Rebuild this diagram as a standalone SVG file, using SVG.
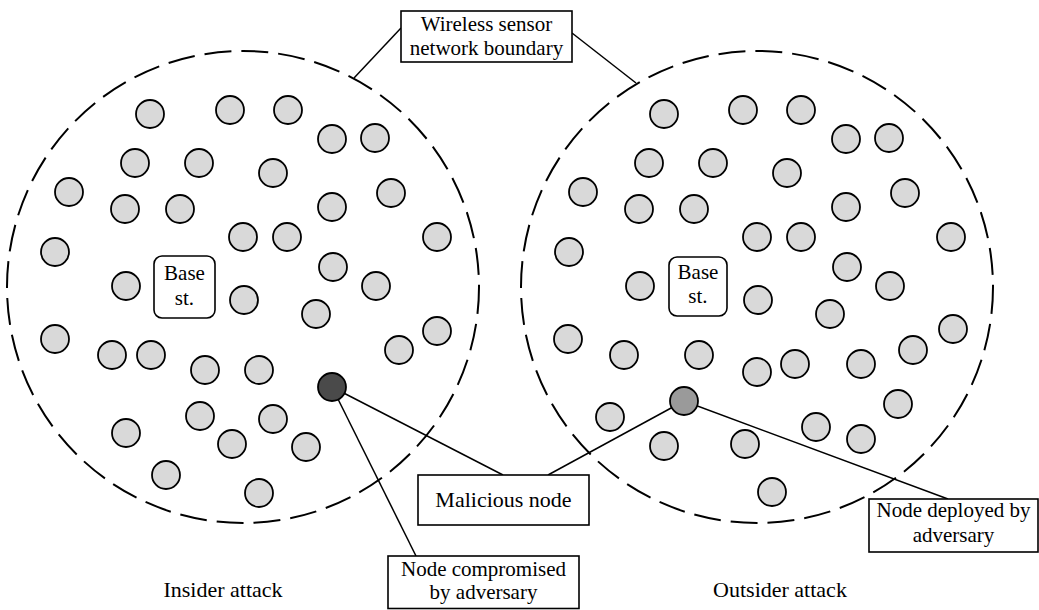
<svg xmlns="http://www.w3.org/2000/svg" width="1039" height="610" viewBox="0 0 1039 610" font-family="Liberation Serif, serif">
<style>
.bd{fill:none;stroke:#000;stroke-width:2;stroke-dasharray:27 10}
.n{fill:#d9d9d9;stroke:#000;stroke-width:1.8}
.dk{fill:#4a4a4a;stroke:#000;stroke-width:1.8}
.gr{fill:#9a9a9a;stroke:#000;stroke-width:1.8}
.ln{stroke:#000;stroke-width:1.5;fill:none}
.box{fill:#fff;stroke:#000;stroke-width:1.6}
.bs{fill:#fff;stroke:#000;stroke-width:1.6}
.t{font-family:'Liberation Serif',serif;font-size:21px;fill:#000;text-anchor:middle}
.c{font-size:22px}
</style>
<rect width="1039" height="610" fill="#fff"/>
<g id="boundaries">
<circle class="bd" cx="243" cy="287" r="236"/>
<circle class="bd" cx="757" cy="287" r="236"/>
</g>
<g id="connectors">
<line class="ln" x1="401" y1="28" x2="354" y2="78"/>
<line class="ln" x1="572" y1="33" x2="636" y2="83"/>
<line class="ln" x1="332" y1="387" x2="503" y2="475"/>
<line class="ln" x1="332" y1="387" x2="416" y2="556"/>
<line class="ln" x1="684" y1="401" x2="548" y2="475"/>
<line class="ln" x1="684" y1="401" x2="948" y2="499"/>
</g>
<g id="insider-nodes">
<g id="l1"><circle class="n" cx="150" cy="114" r="14"/></g>
<g id="l2"><circle class="n" cx="230" cy="110" r="14"/></g>
<g id="l3"><circle class="n" cx="288" cy="110" r="14"/></g>
<g id="l4"><circle class="n" cx="332" cy="139" r="14"/></g>
<g id="l5"><circle class="n" cx="375" cy="138" r="14"/></g>
<g id="l6"><circle class="n" cx="135" cy="163" r="14"/></g>
<g id="l7"><circle class="n" cx="199" cy="163" r="14"/></g>
<g id="l8"><circle class="n" cx="273" cy="173" r="14"/></g>
<g id="l9"><circle class="n" cx="69" cy="192" r="14"/></g>
<g id="l10"><circle class="n" cx="125" cy="209" r="14"/></g>
<g id="l11"><circle class="n" cx="180" cy="209" r="14"/></g>
<g id="l12"><circle class="n" cx="332" cy="207" r="14"/></g>
<g id="l13"><circle class="n" cx="391" cy="193" r="14"/></g>
<g id="l14"><circle class="n" cx="243" cy="237" r="14"/></g>
<g id="l15"><circle class="n" cx="287" cy="237" r="14"/></g>
<g id="l16"><circle class="n" cx="437" cy="237" r="14"/></g>
<g id="l17"><circle class="n" cx="55" cy="252" r="14"/></g>
<g id="l18"><circle class="n" cx="333" cy="267" r="14"/></g>
<g id="l19"><circle class="n" cx="126" cy="286" r="14"/></g>
<g id="l20"><circle class="n" cx="376" cy="286" r="14"/></g>
<g id="l21"><circle class="n" cx="244" cy="300" r="14"/></g>
<g id="l22"><circle class="n" cx="316" cy="314" r="14"/></g>
<g id="l23"><circle class="n" cx="55" cy="339" r="14"/></g>
<g id="l24"><circle class="n" cx="112" cy="355" r="14"/></g>
<g id="l25"><circle class="n" cx="151" cy="355" r="14"/></g>
<g id="l26"><circle class="n" cx="205" cy="370" r="14"/></g>
<g id="l27"><circle class="n" cx="259" cy="370" r="14"/></g>
<g id="l28"><circle class="n" cx="399" cy="350" r="14"/></g>
<g id="l29"><circle class="n" cx="437" cy="331" r="14"/></g>
<g id="l30"><circle class="n" cx="200" cy="416" r="14"/></g>
<g id="l31"><circle class="n" cx="273" cy="419" r="14"/></g>
<g id="l32"><circle class="n" cx="126" cy="433" r="14"/></g>
<g id="l33"><circle class="n" cx="232" cy="444" r="14"/></g>
<g id="l34"><circle class="n" cx="306" cy="447" r="14"/></g>
<g id="l35"><circle class="n" cx="166" cy="475" r="14"/></g>
<g id="l36"><circle class="n" cx="259" cy="493" r="14"/></g>
<g id="compromised-node"><circle class="dk" cx="332" cy="387" r="14"/></g>
<g id="base-left"><rect class="bs" x="154" y="256" width="61" height="62" rx="8"/><text class="t" x="184.5" y="280">Base</text><text class="t" x="184.5" y="305">st.</text></g>
</g>
<g id="outsider-nodes">
<g id="r1"><circle class="n" cx="664" cy="114" r="14"/></g>
<g id="r2"><circle class="n" cx="743" cy="110" r="14"/></g>
<g id="r3"><circle class="n" cx="801" cy="110" r="14"/></g>
<g id="r4"><circle class="n" cx="846" cy="139" r="14"/></g>
<g id="r5"><circle class="n" cx="889" cy="138" r="14"/></g>
<g id="r6"><circle class="n" cx="649" cy="163" r="14"/></g>
<g id="r7"><circle class="n" cx="713" cy="163" r="14"/></g>
<g id="r8"><circle class="n" cx="787" cy="173" r="14"/></g>
<g id="r9"><circle class="n" cx="583" cy="192" r="14"/></g>
<g id="r10"><circle class="n" cx="639" cy="209" r="14"/></g>
<g id="r11"><circle class="n" cx="694" cy="209" r="14"/></g>
<g id="r12"><circle class="n" cx="846" cy="207" r="14"/></g>
<g id="r13"><circle class="n" cx="905" cy="193" r="14"/></g>
<g id="r14"><circle class="n" cx="757" cy="237" r="14"/></g>
<g id="r15"><circle class="n" cx="801" cy="237" r="14"/></g>
<g id="r16"><circle class="n" cx="951" cy="237" r="14"/></g>
<g id="r17"><circle class="n" cx="569" cy="252" r="14"/></g>
<g id="r18"><circle class="n" cx="847" cy="267" r="14"/></g>
<g id="r19"><circle class="n" cx="640" cy="286" r="14"/></g>
<g id="r20"><circle class="n" cx="890" cy="286" r="14"/></g>
<g id="r21"><circle class="n" cx="758" cy="300" r="14"/></g>
<g id="r22"><circle class="n" cx="830" cy="314" r="14"/></g>
<g id="r23"><circle class="n" cx="568" cy="339" r="14"/></g>
<g id="r24"><circle class="n" cx="624" cy="355" r="14"/></g>
<g id="r25"><circle class="n" cx="699" cy="355" r="14"/></g>
<g id="r26"><circle class="n" cx="757" cy="372" r="14"/></g>
<g id="r27"><circle class="n" cx="795" cy="364" r="14"/></g>
<g id="r28"><circle class="n" cx="861" cy="364" r="14"/></g>
<g id="r29"><circle class="n" cx="913" cy="350" r="14"/></g>
<g id="r30"><circle class="n" cx="953" cy="329" r="14"/></g>
<g id="r31"><circle class="n" cx="610" cy="417" r="14"/></g>
<g id="r32"><circle class="n" cx="898" cy="404" r="14"/></g>
<g id="r33"><circle class="n" cx="816" cy="427" r="14"/></g>
<g id="r34"><circle class="n" cx="861" cy="439" r="14"/></g>
<g id="r35"><circle class="n" cx="664" cy="446" r="14"/></g>
<g id="r36"><circle class="n" cx="745" cy="444" r="14"/></g>
<g id="r37"><circle class="n" cx="772" cy="492" r="14"/></g>
<g id="deployed-node"><circle class="gr" cx="684" cy="401" r="14"/></g>
<g id="base-right"><rect class="bs" x="669" y="257" width="58" height="59" rx="8"/><text class="t" x="698" y="279">Base</text><text class="t" x="698" y="303">st.</text></g>
</g>
<g id="label-boundary"><rect class="box" x="401" y="11" width="171" height="51"/><text class="t" x="486.5" y="31">Wireless sensor</text><text class="t" x="486.5" y="55">network boundary</text></g>
<g id="label-malicious"><rect class="box" x="418" y="475" width="171" height="50"/><text class="t c" x="503.5" y="507">Malicious node</text></g>
<g id="label-compromised"><rect class="box" x="388" y="556" width="191" height="52.5"/><text class="t" x="483.5" y="576">Node compromised</text><text class="t" x="483.5" y="599">by adversary</text></g>
<g id="label-deployed"><rect class="box" x="869" y="499" width="169" height="53"/><text class="t" x="953.5" y="517">Node deployed by</text><text class="t" x="953.5" y="542">adversary</text></g>
<g id="captions"><text class="t c" x="223" y="597">Insider attack</text><text class="t c" x="780" y="597">Outsider attack</text></g>
</svg>
